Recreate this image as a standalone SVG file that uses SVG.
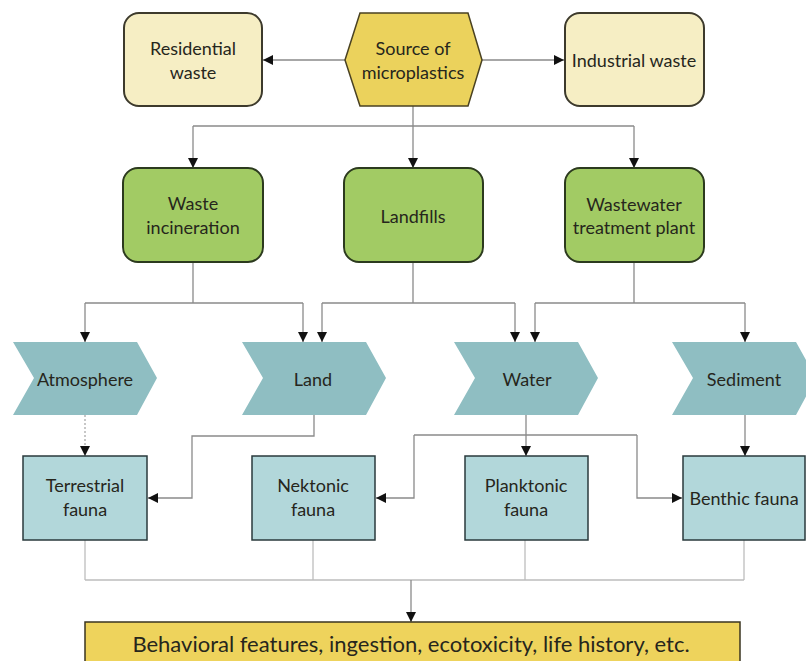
<svg xmlns="http://www.w3.org/2000/svg" width="806" height="661" viewBox="0 0 806 661">
<defs>
<marker id="ah" viewBox="0 0 10 10" refX="10" refY="5" markerWidth="10" markerHeight="10" markerUnits="userSpaceOnUse" orient="auto">
<path d="M0,0 L10,5 L0,10 Z" fill="#111"/>
</marker>
</defs>
<style>
text{font-family:Lato,"Open Sans","Liberation Sans",sans-serif;font-size:18px;fill:#26261c;text-anchor:middle;dominant-baseline:central}
.src{fill:#f6eec4;stroke:#3d3a2c;stroke-width:2}
.hex{fill:#ebd25c;stroke:#4a4222;stroke-width:1.5}
.grn{fill:#a2cb64;stroke:#2c3a1e;stroke-width:2}
.chev{fill:#8fbec2}
.fauna{fill:#b2d7da;stroke:#2a3a3c;stroke-width:1.5}
.out{fill:#eed35c;stroke:#3a3420;stroke-width:1.5}
.c{fill:none;stroke:#8a8a8a;stroke-width:1.3}
.cl{fill:none;stroke:#bdbdbd;stroke-width:1.3}
.ca{fill:none;stroke:#8a8a8a;stroke-width:1.3;marker-end:url(#ah)}
.cd{fill:none;stroke:#aaaaaa;stroke-width:1.3;stroke-dasharray:2,2;marker-end:url(#ah)}
</style>
<g id="connectors">
<path class="ca" d="M345,60 H263"/>
<path class="ca" d="M482,60 H564"/>
<path class="c" d="M413,106 V126 M193,126 H634"/>
<path class="ca" d="M193,126 V168"/>
<path class="ca" d="M413,126 V168"/>
<path class="ca" d="M634,126 V168"/>
<path class="c" d="M193,262 V303 M85,303 H303"/>
<path class="ca" d="M85,303 V342"/>
<path class="ca" d="M303,303 V342"/>
<path class="c" d="M413,262 V303 M322,303 H515"/>
<path class="ca" d="M322,303 V342"/>
<path class="ca" d="M515,303 V342"/>
<path class="c" d="M634,262 V303 M535,303 H745"/>
<path class="ca" d="M535,303 V342"/>
<path class="ca" d="M745,303 V342"/>
<path class="cd" d="M85,415 V456"/>
<path class="ca" d="M314,415 V436 H192 V498 H148"/>
<path class="ca" d="M526,415 V456"/>
<path class="c" d="M414,435 H637"/>
<path class="ca" d="M414,435 V498 H376"/>
<path class="ca" d="M637,435 V498 H682"/>
<path class="ca" d="M745,415 V456"/>
<path class="cl" d="M85,540 V580 M313,540 V580 M525,540 V580 M744,540 V580 M85,580 H744"/>
<path class="ca" d="M411,580 V622"/>
</g>
<g id="residential"><rect class="src" x="124" y="13" width="138" height="93" rx="15"/><text x="193" y="48">Residential</text><text x="193" y="72">waste</text></g>
<g id="source"><polygon class="hex" points="360,13 468,13 482,60 468,106 360,106 345,60"/><text x="413" y="48">Source of</text><text x="413" y="72">microplastics</text></g>
<g id="industrial"><rect class="src" x="565" y="13" width="139" height="93" rx="15"/><text x="634" y="60">Industrial waste</text></g>
<g id="incineration"><rect class="grn" x="123" y="168" width="140" height="94" rx="15"/><text x="193" y="203">Waste</text><text x="193" y="227">incineration</text></g>
<g id="landfills"><rect class="grn" x="344" y="168" width="139" height="94" rx="15"/><text x="413" y="216">Landfills</text></g>
<g id="wastewater"><rect class="grn" x="565" y="168" width="139" height="94" rx="15"/><text x="634" y="204">Wastewater</text><text x="634" y="227">treatment plant</text></g>
<g id="atmosphere"><polygon class="chev" points="13,342 137,342 157,378 137,415 13,415 34,378"/><text x="85" y="379">Atmosphere</text></g>
<g id="land"><polygon class="chev" points="242,342 366,342 386,378 366,415 242,415 263,378"/><text x="313" y="379">Land</text></g>
<g id="water"><polygon class="chev" points="454,342 578,342 598,378 578,415 454,415 475,378"/><text x="527" y="379">Water</text></g>
<g id="sediment"><polygon class="chev" points="672,342 796,342 816,378 796,415 672,415 693,378"/><text x="744" y="379">Sediment</text></g>
<g id="terrestrial"><rect class="fauna" x="23" y="456" width="124" height="84"/><text x="85" y="485">Terrestrial</text><text x="85" y="509">fauna</text></g>
<g id="nektonic"><rect class="fauna" x="252" y="456" width="123" height="84"/><text x="313" y="485">Nektonic</text><text x="313" y="509">fauna</text></g>
<g id="planktonic"><rect class="fauna" x="465" y="456" width="123" height="84"/><text x="526" y="485">Planktonic</text><text x="526" y="509">fauna</text></g>
<g id="benthic"><rect class="fauna" x="683" y="456" width="122" height="84"/><text x="744" y="498">Benthic fauna</text></g>
<g id="outcome"><rect class="out" x="85" y="622" width="655" height="50"/><text x="411" y="643" style="font-size:22px">Behavioral features, ingestion, ecotoxicity, life history, etc.</text></g>
</svg>
